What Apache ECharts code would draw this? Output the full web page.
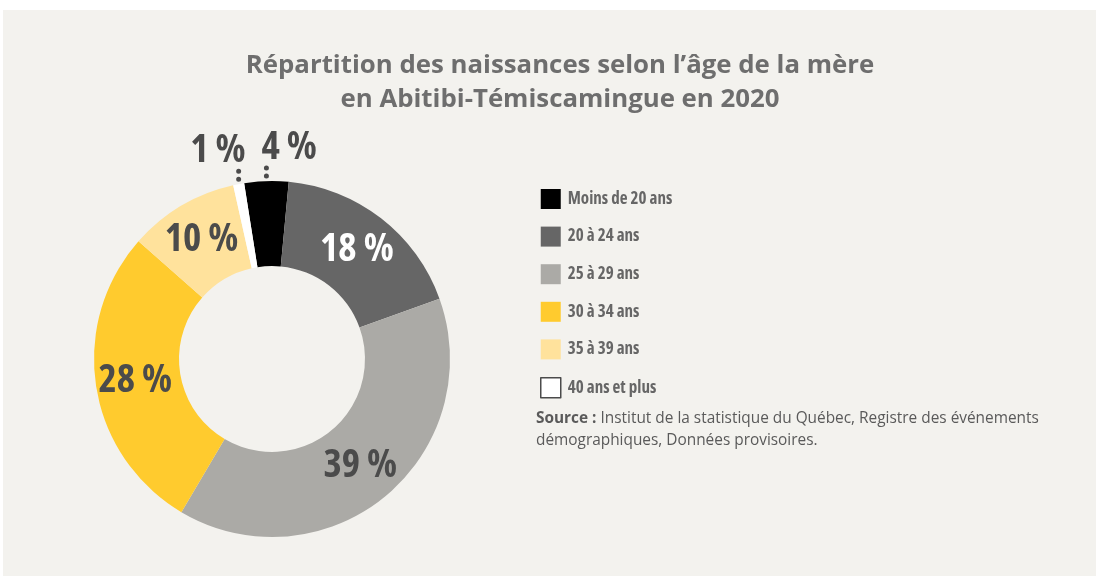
<!DOCTYPE html>
<html>
<head>
<meta charset="utf-8">
<script src="https://cdn.jsdelivr.net/npm/echarts@6/dist/echarts.min.js"></script>
<style>
  html, body { margin: 0; padding: 0; background: #ffffff; }
  #root1 { width: 1096px; height: 578px; }
</style>
</head>
<body>
<div id="root1"></div>
<script>
// age groups of the mother and share of births (%)
const categories = ['Moins de 20 ans', '20 à 24 ans', '25 à 29 ans', '30 à 34 ans', '35 à 39 ans', '40 ans et plus'];
const shares = [4, 18, 39, 28, 10, 1];
const colors = ['#000000', '#666666', '#abaaa6', '#ffcb2e', '#ffe29c', '#ffffff'];
const outsideLabels = [0, 5]; // small slices labelled above the ring

const labelFont = '"Open Sans", "DejaVu Sans", sans-serif';
const labelWeight = 'bold condensed';
const textGray = '#4b4b4b';

const chartDom = document.getElementById('root1');
const myChart = echarts.init(chartDom);

const pieData = categories.map((name, i) => {
  const item = { name: name, value: shares[i], itemStyle: { color: colors[i] } };
  if (i === 1) {
    item.label = { color: '#ffffff' };
  }
  if (outsideLabels.includes(i)) {
    item.label = { position: 'outside' };
    item.labelLine = { show: true, length: 10, length2: 0 };
  }
  return item;
});

const option = {
  backgroundColor: '#ffffff',
  graphic: [
    {
      type: 'rect',
      left: 3,
      top: 10,
      z: -10,
      shape: { width: 1093, height: 566 },
      style: { fill: '#f3f2ee' }
    },
    {
      type: 'text',
      left: 536,
      top: 408,
      style: {
        text: '{b|Source :} Institut de la statistique du Québec, Registre des événements\ndémographiques, Données provisoires.',
        fontFamily: '"Open Sans", sans-serif',
        fontSize: 15.4,
        lineHeight: 22,
        fill: '#5a5a5a',
        rich: {
          b: { fontWeight: 'bold', fontSize: 15.4, fontFamily: '"Open Sans", sans-serif', fill: '#5a5a5a' }
        }
      }
    }
  ],
  title: {
    text: 'Répartition des naissances selon l’âge de la mère\nen Abitibi-Témiscamingue en 2020',
    left: 555,
    top: 44,
    textAlign: 'center',
    textStyle: {
      fontFamily: '"Open Sans", sans-serif',
      fontWeight: 'bold',
      fontSize: 25.8,
      lineHeight: 34,
      color: '#6e6e6e'
    }
  },
  legend: {
    orient: 'vertical',
    left: 535,
    top: 184,
    itemWidth: 20,
    itemHeight: 20,
    itemGap: 17.6,
    icon: 'rect',
    data: categories.map((name, i) => {
      const d = { name: name };
      if (i === 5) {
        d.itemStyle = { borderColor: '#4b4b4b', borderWidth: 1.5 };
      }
      return d;
    }),
    textStyle: {
      fontFamily: labelFont,
      fontWeight: labelWeight,
      fontSize: 17,
      color: '#666666',
      padding: [0, 0, 0, 2]
    }
  },
  series: [
    {
      type: 'pie',
      center: [272, 359],
      radius: [93, 178],
      startAngle: 99,
      clockwise: true,
      avoidLabelOverlap: false,
      silent: true,
      label: {
        show: true,
        position: 'inside',
        formatter: '{c} %',
        fontFamily: labelFont,
        fontWeight: labelWeight,
        fontSize: 39,
        color: textGray
      },
      labelLine: {
        show: false,
        lineStyle: { color: textGray, width: 5, type: [0, 8], cap: 'round' }
      },
      labelLayout: function (params) {
        if (!outsideLabels.includes(params.dataIndex) || !params.labelLinePoints) {
          return {};
        }
        const p = params.labelLinePoints[0];
        const left = params.dataIndex === 5;
        return {
          x: left ? p[0] + 7 : p[0] - 5,
          y: p[1] - 33,
          align: left ? 'right' : 'left',
          verticalAlign: 'middle',
          labelLinePoints: [[p[0], p[1] - 5], [p[0], p[1] - 14]]
        };
      },
      data: pieData
    }
  ]
};

myChart.setOption(option);
</script>
</body>
</html>
